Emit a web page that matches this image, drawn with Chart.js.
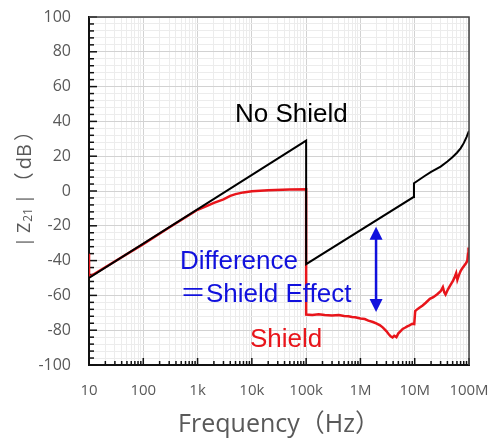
<!DOCTYPE html>
<html><head><meta charset="utf-8">
<script src="https://cdn.jsdelivr.net/npm/chart.js@4.4.1/dist/chart.umd.min.js"></script>
<style>html,body{margin:0;padding:0;background:#fff}</style>
</head><body>
<canvas id="c" width="490" height="444"></canvas>
<script>
// ---- data ----
const noShieldFreq = [10, 1e5, 1e5, 9.5e6, 9.7e6, 1.5e7, 2e7, 3e7, 4e7, 5e7, 6e7, 7e7, 8e7, 9e7, 1e8];
const noShieldDb   = [-50, 29, -42, -3.5, 4.5, 8.5, 11, 14, 17, 19.5, 22, 24.5, 27.5, 31, 34.5];

const shieldFreq = [10, 10, 100, 300, 1000, 1500, 2000, 3000, 4000, 5000, 7000, 1e4, 2e4, 5e4, 1e5,
  1e5, 1.3e5, 1.7e5, 2.2e5, 3e5, 4e5, 5e5, 6e5, 7e5, 8e5, 1e6, 1.2e6, 1.4e6, 1.7e6, 2e6, 2.3e6, 2.6e6,
  3e6, 3.3e6, 3.6e6, 3.9e6, 4.2e6, 4.6e6, 5e6, 5.5e6, 6e6, 6.6e6, 7.3e6, 8e6, 9e6, 9.8e6,
  1.02e7, 1.08e7, 1.2e7, 1.4e7, 1.6e7, 1.9e7, 2.2e7, 2.6e7, 3e7, 3.3e7, 3.5e7, 3.7e7, 4.1e7, 4.6e7,
  5e7, 5.4e7, 5.8e7, 6.1e7, 6.5e7, 7e7, 7.6e7, 8.2e7, 8.8e7, 9.3e7, 9.6e7, 9.8e7, 1e8];
const shieldDb = [-36, -49.5, -30.5, -21, -10.8, -8.5, -6.8, -4.8, -2.8, -1.8, -0.8, -0.2, 0.4, 0.8, 1,
  -71, -71.2, -70.9, -71.3, -71.5, -71.3, -71.8, -72, -72.4, -72.6, -73.3, -73.6, -74.5, -75.3, -76.2, -77.2, -78.5,
  -80.5, -82.2, -83.5, -84.2, -83.2, -84, -81.8, -80.5, -79.3, -78.6, -77.8, -77.2, -76.3, -76.5,
  -69, -68.3, -67.2, -65.8, -64.2, -62, -61, -59.3, -57.6, -55.2, -58.2, -59.5, -56.5, -53.8,
  -52, -49.8, -47.2, -51, -48.5, -46, -44.2, -42.8, -41.5, -40.2, -36, -32.5, -35.5];

const xDecades = [10, 100, 1e3, 1e4, 1e5, 1e6, 1e7, 1e8];
const xDecadeLabels = ['10', '100', '1k', '10k', '100k', '1M', '10M', '100M'];
const yMajorStep = 20;
const yMinorStep = 4;

// annotation anchors in data units
const notes = [
  {text: 'No Shield', x: 4.9e3, y: 39.7, color: '#000000'},
  {text: 'Difference', x: 474, y: -45, color: '#1111dd'},
  {text: '＝Shield Effect', x: 474, y: -63.6, color: '#1111dd'},
  {text: 'Shield', x: 9.25e3, y: -89.5, color: '#e8151b'}
];
const arrowSpec = {x: 1.94e6, yTop: -20.5, yBottom: -69.5, color: '#1111dd'};

const toPts = (xs, ys) => xs.map((x, i) => ({x: x, y: ys[i]}));

const xTickValues = [];
xDecades.forEach((d, i) => {
  if (i === xDecades.length - 1) { xTickValues.push(d); return; }
  for (let m = 1; m <= 9; m++) xTickValues.push(m * d);
});

const TXT = '#595959';
const FONT = '"Open Sans", "Noto Sans", sans-serif';

const framePlugin = {
  id: 'frame',
  beforeDatasetsDraw(chart) {
    const {ctx, chartArea: a, scales} = chart;
    ctx.save();
    ctx.strokeStyle = '#111';
    ctx.lineWidth = 1.5;
    scales.y.ticks.forEach(t => {
      const py = scales.y.getPixelForValue(t.value);
      const len = (t.value % yMajorStep === 0) ? 8 : 5;
      ctx.beginPath(); ctx.moveTo(a.left, py); ctx.lineTo(a.left + len, py); ctx.stroke();
    });
    scales.x.ticks.forEach(t => {
      const px = scales.x.getPixelForValue(t.value);
      const len = xDecades.includes(t.value) ? 7 : 4;
      ctx.beginPath(); ctx.moveTo(px, a.bottom); ctx.lineTo(px, a.bottom - len); ctx.stroke();
    });
    ctx.restore();
  },
  afterDatasetsDraw(chart) {
    const {ctx, chartArea: a, scales} = chart;
    ctx.save();
    ctx.strokeStyle = '#444';
    ctx.lineWidth = 1.5;
    ctx.beginPath();
    ctx.moveTo(a.left, a.top); ctx.lineTo(a.right, a.top); ctx.lineTo(a.right, a.bottom);
    ctx.stroke();
    ctx.font = '26px "Liberation Sans", Arial, "Noto Sans CJK JP", sans-serif';
    ctx.textAlign = 'left';
    ctx.textBaseline = 'alphabetic';
    notes.forEach(n => {
      ctx.fillStyle = n.color;
      ctx.fillText(n.text, scales.x.getPixelForValue(n.x), scales.y.getPixelForValue(n.y));
    });
    const ax = scales.x.getPixelForValue(arrowSpec.x);
    const y1 = scales.y.getPixelForValue(arrowSpec.yTop);
    const y2 = scales.y.getPixelForValue(arrowSpec.yBottom);
    const hl = 13, hw = 6.5;
    ctx.strokeStyle = arrowSpec.color; ctx.fillStyle = arrowSpec.color;
    ctx.lineWidth = 2.5;
    ctx.beginPath(); ctx.moveTo(ax, y1 + hl - 1); ctx.lineTo(ax, y2 - hl + 1); ctx.stroke();
    ctx.beginPath(); ctx.moveTo(ax, y1); ctx.lineTo(ax - hw, y1 + hl); ctx.lineTo(ax + hw, y1 + hl); ctx.closePath(); ctx.fill();
    ctx.beginPath(); ctx.moveTo(ax, y2); ctx.lineTo(ax - hw, y2 - hl); ctx.lineTo(ax + hw, y2 - hl); ctx.closePath(); ctx.fill();
    ctx.restore();
  },
  afterDraw(chart) {
    // y-axis title |Z21|（dB） with a real subscript, rotated
    const {ctx, chartArea: a} = chart;
    ctx.save();
    ctx.translate(25, a.bottom - 118);
    ctx.rotate(-Math.PI / 2);
    ctx.fillStyle = TXT;
    ctx.textBaseline = 'middle';
    ctx.textAlign = 'left';
    const cjk = ', "Noto Sans CJK JP"';
    const pieces = [
      {t: '|', f: '18px ' + FONT, dy: 0, gap: 4},
      {t: 'Z', f: '18px ' + FONT, dy: 0, gap: 1},
      {t: '21', f: '12px ' + FONT, dy: 4, gap: 4},
      {t: '|', f: '18px ' + FONT, dy: 0, gap: 2},
      {t: '（', f: '20px ' + FONT + cjk, dy: 0, gap: 3},
      {t: 'dB', f: '20px ' + FONT, dy: 0, gap: 3},
      {t: '）', f: '20px ' + FONT + cjk, dy: 0, gap: 0}
    ];
    let x = 0;
    pieces.forEach(p => {
      ctx.font = p.f;
      ctx.fillText(p.t, x, p.dy);
      x += ctx.measureText(p.t).width + p.gap;
    });
    ctx.restore();
  }
};

new Chart(document.getElementById('c'), {
  type: 'scatter',
  data: {
    datasets: [
      {label: 'No Shield', data: toPts(noShieldFreq, noShieldDb), showLine: true, borderColor: '#000', borderWidth: 2, pointRadius: 0, tension: 0},
      {label: 'Shield', data: toPts(shieldFreq, shieldDb), showLine: true, borderColor: '#e8151b', borderWidth: 2.5, pointRadius: 0, tension: 0}
    ]
  },
  options: {
    responsive: false,
    animation: false,
    layout: {padding: {left: 0, right: 21, top: 17, bottom: 0}},
    plugins: {legend: {display: false}, tooltip: {enabled: false}},
    scales: {
      x: {
        type: 'logarithmic', min: 10, max: 1e8,
        afterBuildTicks(scale) { scale.ticks = xTickValues.map(v => ({value: v})); },
        afterFit(scale) { scale.height = 79; scale.paddingLeft = 0; scale.paddingRight = 0; },
        ticks: {
          autoSkip: false, maxRotation: 0, minRotation: 0, padding: 17,
          color: TXT, font: {family: FONT, size: 15},
          callback(v) { const i = xDecades.indexOf(v); return i >= 0 ? xDecadeLabels[i] : ''; }
        },
        grid: {
          drawTicks: false,
          color: ctx => (ctx.tick && xDecades.includes(ctx.tick.value)) ? '#d2d2d2' : '#ececec',
          lineWidth: 1
        },
        border: {color: '#111', width: 2},
        title: {display: true, text: 'Frequency（Hz）', color: TXT,
          font: {family: FONT + ', "Noto Sans CJK JP"', size: 25}, padding: {top: 0, bottom: 4}}
      },
      y: {
        type: 'linear', min: -100, max: 100,
        afterFit(scale) { scale.width = 89; scale.paddingTop = 0; scale.paddingBottom = 0; },
        ticks: {
          stepSize: yMinorStep, autoSkip: false, padding: 18,
          color: TXT, font: {family: FONT, size: 16},
          callback(v) { return v % yMajorStep === 0 ? String(v) : ''; }
        },
        grid: {
          drawTicks: false,
          color: ctx => (ctx.tick && ctx.tick.value % yMajorStep === 0) ? '#d2d2d2' : '#ececec',
          lineWidth: 1
        },
        border: {color: '#111', width: 2},
        title: {display: false}
      }
    }
  },
  plugins: [framePlugin]
});
</script>
</body></html>
